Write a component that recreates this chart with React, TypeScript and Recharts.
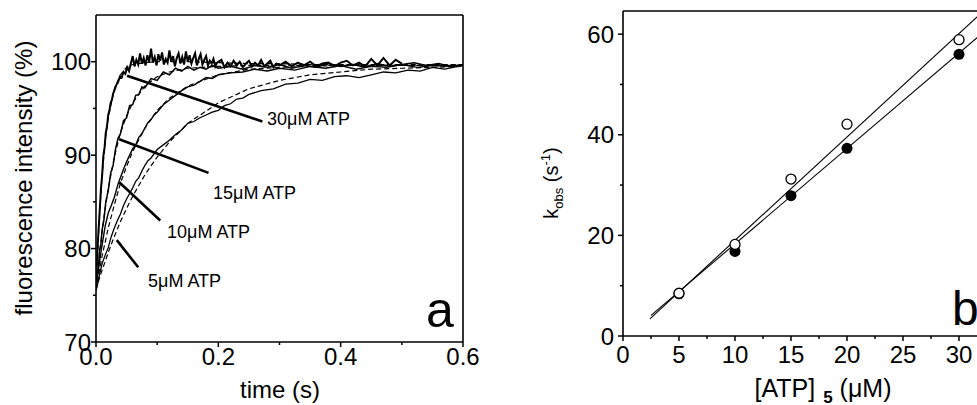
import { ComposedChart, Line, Scatter, XAxis, YAxis, ReferenceLine } from "recharts";

const FONT = '"Liberation Sans", Arial, Helvetica, sans-serif';
const AXIS = { stroke: "#000", strokeWidth: 1.6 };

// ---- panel a: fluorescence traces (time in s, intensity in %) ----
const t5 = [
  0, 0.003, 0.006, 0.01, 0.015, 0.02, 0.025, 0.03, 0.035, 0.04, 0.045, 0.05, 0.055, 0.06, 0.065,
  0.07, 0.075, 0.08, 0.085, 0.09, 0.1, 0.11, 0.12, 0.13, 0.14, 0.15, 0.16, 0.17, 0.18, 0.19, 0.2,
  0.21, 0.22, 0.23, 0.24, 0.25, 0.27, 0.29, 0.31, 0.33, 0.35, 0.37, 0.39, 0.41, 0.43, 0.45, 0.47,
  0.49, 0.51, 0.53, 0.55, 0.57, 0.6,
];
const v5 = [
  75.5, 76.3, 77.3, 78.4, 79.3, 80.1, 81.3, 82.2, 83.0, 83.7, 84.6, 85.3, 85.9, 86.5, 87.2,
  87.6, 88.3, 88.9, 89.4, 89.7, 90.6, 91.1, 91.6, 92.2, 92.7, 93.4, 93.6, 94.0, 94.3, 94.6, 94.8,
  95.3, 95.5, 96.0, 96.1, 96.5, 96.9, 97.1, 97.6, 97.7, 98.1, 98.0, 98.4, 98.5, 98.3, 98.6, 98.9,
  98.8, 99.1, 99.0, 99.4, 99.2, 99.6,
];

const t10 = [
  0, 0.003, 0.006, 0.01, 0.015, 0.02, 0.025, 0.03, 0.036, 0.04, 0.045, 0.05, 0.055, 0.06, 0.065,
  0.07, 0.075, 0.08, 0.085, 0.09, 0.095, 0.1, 0.11, 0.12, 0.13, 0.14, 0.15, 0.16, 0.17, 0.18, 0.19,
  0.2, 0.22, 0.24, 0.26, 0.28, 0.3, 0.325, 0.35, 0.375, 0.4, 0.425, 0.45, 0.475, 0.5, 0.525, 0.55,
  0.575, 0.6,
];
const v10 = [
  76.0, 77.3, 78.7, 80.4, 82.4, 83.8, 84.6, 85.5, 86.9, 87.6, 88.5, 89.3, 90.0, 90.7, 91.1,
  91.9, 92.3, 92.9, 93.5, 93.8, 94.3, 94.6, 95.4, 95.9, 96.4, 96.9, 97.3, 97.5, 97.9, 98.3, 98.2,
  98.6, 98.8, 98.9, 99.2, 99.0, 99.3, 99.1, 99.5, 99.3, 99.6, 99.2, 99.5, 99.4, 99.7, 99.4, 99.6,
  99.5, 99.6,
];

const t15 = [
  0, 0.002, 0.004, 0.006, 0.008, 0.01, 0.013, 0.016, 0.02, 0.024, 0.028, 0.032, 0.036, 0.04,
  0.045, 0.05, 0.055, 0.06, 0.065, 0.07, 0.075, 0.08, 0.09, 0.1, 0.11, 0.12, 0.13, 0.14, 0.15,
  0.16, 0.17, 0.18, 0.19, 0.2, 0.22, 0.24, 0.26, 0.28, 0.3, 0.32, 0.34, 0.36, 0.38, 0.4, 0.42,
  0.44, 0.46, 0.48, 0.5, 0.52, 0.54, 0.56, 0.58, 0.6,
];
const v15 = [
  75.8, 77.2, 78.1, 79.9, 80.5, 82.0, 83.1, 85.0, 86.2, 88.1, 88.9, 90.7, 91.8, 92.3,
  93.7, 94.0, 95.3, 95.4, 96.4, 96.5, 97.3, 97.2, 98.2, 98.0, 98.9, 98.6, 99.3, 99.0, 99.5,
  99.1, 99.4, 99.2, 99.6, 99.3, 99.5, 99.2, 99.6, 99.4, 99.7, 99.3, 99.6, 99.4, 99.8, 99.5, 99.7,
  99.4, 99.8, 99.5, 99.7, 99.9, 99.6, 99.8, 99.5, 99.7,
];

const t30 = [
  0, 0.002, 0.004, 0.006, 0.008, 0.01, 0.012, 0.014, 0.016, 0.018,
  0.02, 0.022, 0.024, 0.026, 0.028, 0.03, 0.033, 0.036, 0.039, 0.042,
  0.045, 0.048, 0.051, 0.054, 0.057, 0.06, 0.063, 0.066, 0.069, 0.072,
  0.075, 0.078, 0.081, 0.084, 0.087, 0.09, 0.093, 0.096, 0.099, 0.102,
  0.105, 0.108, 0.111, 0.114, 0.117, 0.12, 0.123, 0.126, 0.129, 0.132,
  0.135, 0.138, 0.141, 0.144, 0.147, 0.15, 0.153, 0.156, 0.159, 0.162,
  0.165, 0.168, 0.171, 0.174, 0.177, 0.18, 0.183, 0.186, 0.189, 0.192,
  0.195, 0.198, 0.205, 0.21, 0.215, 0.22, 0.225, 0.23, 0.235, 0.24,
  0.245, 0.25, 0.255, 0.26, 0.265, 0.27, 0.275, 0.28, 0.285, 0.29,
  0.295, 0.3, 0.31, 0.32, 0.33, 0.34, 0.35, 0.36, 0.37, 0.38,
  0.39, 0.4, 0.41, 0.42, 0.43, 0.44, 0.45, 0.46, 0.47, 0.48,
  0.49, 0.5,
];
const v30 = [
  76.0, 79.5, 81.8, 84.0, 86.3, 87.8, 89.9, 90.8, 92.4, 93.1,
  94.3, 94.8, 95.6, 95.9, 96.6, 96.9, 97.5, 97.8, 98.4, 98.3,
  98.9, 98.7, 99.4, 99.0, 99.8, 100.6, 99.5, 100.2, 99.7, 100.9,
  99.8, 100.4, 99.6, 100.7, 100.0, 101.4, 99.9, 100.5, 99.6, 100.8,
  100.1, 101.0, 99.7, 100.3, 99.9, 101.2, 100.0, 100.6, 99.5, 100.4,
  100.9, 99.8, 100.5, 99.7, 101.1, 100.0, 100.7, 99.8, 100.4, 100.9,
  99.6, 100.3, 100.8, 99.7, 100.2, 100.6, 99.6, 100.1, 99.8, 100.3,
  99.5, 99.9, 100.2, 99.4, 99.9, 99.5, 100.1, 99.6, 100.0, 99.4,
  99.8, 100.1, 99.5, 99.9, 99.6, 100.2, 99.5, 99.8, 100.1, 99.4,
  99.8, 99.6, 100.0, 99.5, 99.9, 99.6, 100.0, 99.5, 99.8, 99.9,
  99.5, 99.9, 100.1, 99.6, 99.9, 99.5, 100.3, 99.6, 100.4, 99.6,
  100.2, 99.8,
];

// dashed single-exponential fits
const fitT = [
  0, 0.005, 0.01, 0.015, 0.02, 0.03, 0.04, 0.05, 0.06, 0.08, 0.1, 0.12, 0.15, 0.2, 0.25, 0.3,
  0.35, 0.4, 0.45, 0.5, 0.55, 0.6,
];
const fit5 = [
  75.6, 76.7, 77.7, 78.6, 79.6, 81.3, 82.9, 84.3, 85.6, 87.9, 89.8, 91.4, 93.4, 95.6, 97.1, 98.0,
  98.6, 98.9, 99.2, 99.3, 99.4, 99.5,
];
const fit10 = [
  75.6, 77.5, 79.2, 80.7, 82.2, 84.7, 87.0, 88.8, 90.4, 92.9, 94.8, 96.1, 97.4, 98.6, 99.2, 99.4,
  99.5, 99.6, 99.6, 99.6, 99.6, 99.6,
];
const fit15 = [
  75.6, 78.9, 81.8, 84.3, 86.4, 89.8, 92.4, 94.2, 95.6, 97.4, 98.4, 98.9, 99.3, 99.5, 99.6, 99.6,
  99.6, 99.6, 99.6, 99.6, 99.6, 99.6,
];
const fit30 = [
  75.6, 82.8, 87.9, 91.5, 94.0, 97.1, 98.6, 99.4, 99.7, 99.9, 100.0, 100.0, 100.0, 99.9, 99.8,
  99.8, 99.7, 99.7, 99.7, 99.7, 99.7, 99.7,
];

// pointer lines from the curves to their labels: [t0, v0, t1, v1]
const pointers = [
  [0.0508, 98.5, 0.272, 93.6],
  [0.038, 91.7, 0.184, 88.1],
  [0.038, 87.1, 0.105, 83.0],
  [0.034, 80.9, 0.069, 78.0],
];
const pointerLabels = ["30μM ATP", "15μM ATP", "10μM ATP", "5μM ATP"];

const timeTicks = [0, 0.1, 0.2, 0.3, 0.4, 0.5, 0.6];
const timeMajor = [0, 0.2, 0.4, 0.6];
const fluorTicks = [70, 75, 80, 85, 90, 95, 100];
const fluorMajor = [70, 80, 90, 100];

// ---- panel b: observed rate vs ATP ----
const atpConc = [5, 10, 15, 20, 30];
const kOpen = [8.5, 18.2, 31.2, 42.1, 58.9];
const kFilled = [8.4, 16.8, 27.9, 37.3, 56.0];
const fitOpenC = [2.4, 35];
const fitOpenK = [3.4, 70.4];
const fitFilledC = [2.5, 35];
const fitFilledK = [4.1, 65.7];

const concTicks = [0, 2.5, 5, 7.5, 10, 12.5, 15, 17.5, 20, 22.5, 25, 27.5, 30, 32.5, 35];
const concMajor = [0, 5, 10, 15, 20, 25, 30, 35];
const kTicks = [0, 10, 20, 30, 40, 50, 60];
const kMajor = [0, 20, 40, 60];

const zip = (ts: number[], vs: number[]) => ts.map((t, i) => ({ t, v: vs[i] }));
const zipK = (cs: number[], ks: number[]) => cs.map((c, i) => ({ c, k: ks[i] }));

function bottomTick(majors: number[], digits: number, gap: number) {
  return (p: any) => {
    const major = majors.includes(p.payload.value);
    return (
      <g>
        <line x1={p.x} x2={p.x} y1={p.y} y2={p.y + (major ? 5 : 3)} stroke="#000" strokeWidth={1.5} />
        {major && (
          <text x={p.x} y={p.y + gap} textAnchor="middle" fontSize={24} fontFamily={FONT} fill="#000">
            {p.payload.value.toFixed(digits)}
          </text>
        )}
      </g>
    );
  };
}

function leftTick(majors: number[], gap: number) {
  return (p: any) => {
    const major = majors.includes(p.payload.value);
    return (
      <g>
        <line x1={p.x} x2={p.x - (major ? 5 : 3)} y1={p.y} y2={p.y} stroke="#000" strokeWidth={1.5} />
        {major && (
          <text x={p.x - gap} y={p.y + 8.5} textAnchor="end" fontSize={24} fontFamily={FONT} fill="#000">
            {p.payload.value}
          </text>
        )}
      </g>
    );
  };
}

const Ring = (p: any) => <circle cx={p.cx} cy={p.cy} r={5} fill="#fff" stroke="#000" strokeWidth={1.3} />;
const Dot = (p: any) => <circle cx={p.cx} cy={p.cy} r={5.5} fill="#000" />;

const traceProps = {
  type: "linear" as const,
  dataKey: "v",
  stroke: "#000",
  dot: false,
  activeDot: false,
  isAnimationActive: false,
};

function PanelA() {
  return (
    <ComposedChart width={480} height={405} margin={{ top: 15, right: 17, bottom: 0, left: 0 }}>
      <XAxis
        type="number"
        dataKey="t"
        domain={[0, 0.6]}
        allowDataOverflow
        ticks={timeTicks}
        interval={0}
        height={63}
        tickSize={0}
        tickMargin={0}
        tickLine={false}
        axisLine={AXIS}
        tick={bottomTick(timeMajor, 1, 23)}
      />
      <YAxis
        type="number"
        domain={[70, 105]}
        allowDataOverflow
        ticks={fluorTicks}
        interval={0}
        width={96}
        tickSize={0}
        tickMargin={0}
        tickLine={false}
        axisLine={AXIS}
        tick={leftTick(fluorMajor, 5)}
      />
      <ReferenceLine y={105} stroke="#000" strokeWidth={1.6} />
      <ReferenceLine x={0.6} stroke="#000" strokeWidth={1.6} />
      <Line {...traceProps} data={zip(fitT, fit5)} strokeWidth={1.2} strokeDasharray="5 3" />
      <Line {...traceProps} data={zip(fitT, fit10)} strokeWidth={1.2} strokeDasharray="5 3" />
      <Line {...traceProps} data={zip(fitT, fit15)} strokeWidth={1.2} strokeDasharray="5 3" />
      <Line {...traceProps} data={zip(fitT, fit30)} strokeWidth={1.2} strokeDasharray="5 3" />
      <Line {...traceProps} data={zip(t5, v5)} strokeWidth={1.3} />
      <Line {...traceProps} data={zip(t10, v10)} strokeWidth={1.4} />
      <Line {...traceProps} data={zip(t15, v15)} strokeWidth={1.5} />
      <Line {...traceProps} data={zip(t30, v30)} strokeWidth={2} />
      {pointers.map((p, i) => (
        <ReferenceLine
          key={pointerLabels[i]}
          segment={[
            { x: p[0], y: p[1] },
            { x: p[2], y: p[3] },
          ]}
          stroke="#000"
          strokeWidth={2.6}
          ifOverflow="visible"
        />
      ))}
    </ComposedChart>
  );
}

function PanelB() {
  return (
    <ComposedChart width={530} height={405} margin={{ top: 11, right: 45, bottom: 0, left: 0 }}>
      <XAxis
        type="number"
        dataKey="c"
        domain={[0, 35]}
        allowDataOverflow
        ticks={concTicks}
        interval={0}
        height={69}
        tickSize={0}
        tickMargin={0}
        tickLine={false}
        axisLine={AXIS}
        tick={bottomTick(concMajor, 0, 27)}
      />
      <YAxis
        type="number"
        dataKey="k"
        domain={[0, 64.6]}
        allowDataOverflow
        ticks={kTicks}
        interval={0}
        width={93}
        tickSize={0}
        tickMargin={0}
        tickLine={false}
        axisLine={AXIS}
        tick={leftTick(kMajor, 9)}
      />
      <ReferenceLine y={64.6} stroke="#000" strokeWidth={1.6} />
      <Line type="linear" dataKey="k" data={zipK(fitOpenC, fitOpenK)} stroke="#000" strokeWidth={1.1} dot={false} activeDot={false} isAnimationActive={false} />
      <Line type="linear" dataKey="k" data={zipK(fitFilledC, fitFilledK)} stroke="#000" strokeWidth={1.1} dot={false} activeDot={false} isAnimationActive={false} />
      <Scatter data={zipK(atpConc, kFilled)} shape={Dot} isAnimationActive={false} />
      <Scatter data={zipK(atpConc, kOpen)} shape={Ring} isAnimationActive={false} />
    </ComposedChart>
  );
}

function Titles() {
  const anno = [
    [267, 125],
    [213, 199],
    [167, 238],
    [148, 287],
  ];
  return (
    <svg width={977} height={405} style={{ position: "absolute", left: 0, top: 0, pointerEvents: "none" }} fontFamily={FONT}>
      <text x={32} y={178} transform="rotate(-90 32 178)" textAnchor="middle" fontSize={24}>
        fluorescence intensity (%)
      </text>
      <text x={280} y={398} textAnchor="middle" fontSize={24}>
        time (s)
      </text>
      {pointerLabels.map((s, i) => (
        <text key={s} x={anno[i][0]} y={anno[i][1]} fontSize={18}>
          {s}
        </text>
      ))}
      <text x={426} y={327} fontSize={50}>
        a
      </text>
      <text x={558} y={183} transform="rotate(-90 558 183)" textAnchor="middle" fontSize={20}>
        k<tspan fontSize={13} dy={5}>obs</tspan>
        <tspan dy={-5}> (s</tspan>
        <tspan fontSize={13} dy={-8}>-1</tspan>
        <tspan dy={8}>)</tspan>
      </text>
      <text x={823} y={397} textAnchor="middle" fontSize={25}>
        [ATP]<tspan fontSize={17} dx={8} dy={6} fontWeight="bold">5</tspan>
        <tspan dy={-6}> (μM)</tspan>
      </text>
      <text x={952} y={325} fontSize={48}>
        b
      </text>
    </svg>
  );
}

export default function App() {
  return (
    <div
      style={{
        position: "fixed",
        left: 0,
        top: 0,
        width: 977,
        height: 405,
        overflow: "hidden",
        background: "#fff",
        fontFamily: FONT,
      }}
    >
      <div style={{ position: "absolute", left: 0, top: 0 }}>
        <PanelA />
      </div>
      <div style={{ position: "absolute", left: 530, top: 0 }}>
        <PanelB />
      </div>
      <Titles />
    </div>
  );
}
